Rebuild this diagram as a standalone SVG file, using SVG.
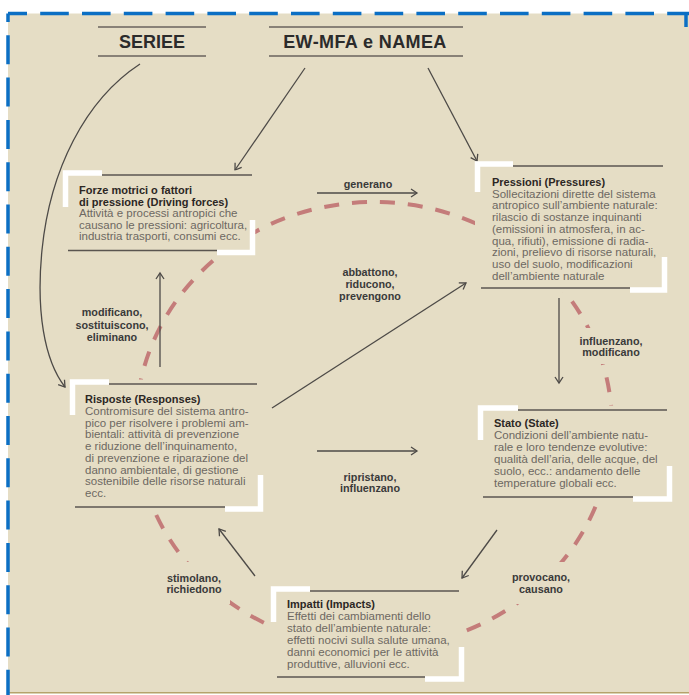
<svg xmlns="http://www.w3.org/2000/svg" width="689" height="695" viewBox="0 0 689 695">
  <style>
    .panel { fill: #E5DDC5; }
    .frame { fill: none; stroke: #0B6FC4; stroke-width: 3.5; }
    .hdr-rule { stroke: #68625C; stroke-width: 1.6; }
    .hdr { font-family: "Liberation Sans", Arial, sans-serif; font-weight: bold; font-size: 18px; fill: #2B2B2B; text-anchor: middle; }
    .pad { fill: #E5DDC5; }
    .rule { stroke: #5A5550; stroke-width: 1.6; }
    .corner { fill: none; stroke: #FFFFFF; stroke-width: 5.5; }
    .title { font-family: "Liberation Sans", Arial, sans-serif; font-weight: bold; font-size: 11px; fill: #2C2724; }
    .body { font-family: "Liberation Sans", Arial, sans-serif; font-size: 11.5px; fill: #6D6862; }
    .arrow { fill: none; stroke: #4D4A47; stroke-width: 1.3; marker-end: url(#head); }
    .lbl { font-family: "Liberation Sans", Arial, sans-serif; font-weight: bold; font-size: 10.8px; fill: #3A3A3A; text-anchor: middle; }
    .cycle { fill: none; stroke: #C47C7A; stroke-width: 4; stroke-dasharray: 15 13; }
  </style>
  <defs>
    <marker id="head" viewBox="0 0 8 10" refX="7" refY="5" markerWidth="8" markerHeight="10" markerUnits="userSpaceOnUse" orient="auto" overflow="visible">
      <path d="M1,1 L7,5 L1,9" fill="none" stroke="#4D4A47" stroke-width="1.3"/>
    </marker>
  </defs>

  <!-- page -->
  <rect width="689" height="695" fill="#FFFFFF"/>
  <rect class="panel" x="8" y="13.5" width="681" height="679"/>
  <line x1="8" y1="692.8" x2="689" y2="692.8" stroke="#B5A36B" stroke-width="1.6"/>
  <path class="frame" d="M8,13.5 H689" stroke-dasharray="28.6 13.2" stroke-dashoffset="9.6"/>
  <path class="frame" d="M8,13.5 V695" stroke-dasharray="29 13.3" stroke-dashoffset="20.5"/>
  <path class="frame" d="M686,13.5 V27"/>

  <!-- DPSIR cycle -->
  <g id="cycle">
    <ellipse class="cycle" cx="374" cy="425" rx="238" ry="223"/>
  </g>

  <!-- sources -->
  <g id="src-seriee">
    <line class="hdr-rule" x1="98" y1="27" x2="206" y2="27"/>
    <line class="hdr-rule" x1="98" y1="56" x2="206" y2="56"/>
    <text class="hdr" x="152" y="47.5">SERIEE</text>
  </g>
  <g id="src-ewmfa">
    <line class="hdr-rule" x1="269" y1="27" x2="463" y2="27"/>
    <line class="hdr-rule" x1="269" y1="56" x2="463" y2="56"/>
    <text class="hdr" x="365" y="47.5" letter-spacing="0.4">EW-MFA e NAMEA</text>
  </g>

  <!-- connectors -->
  <g id="connectors">
    <path class="arrow" d="M140,64 C85,100 50,170 42,250 C36,310 44,360 65,387"/>
    <line class="arrow" x1="305" y1="68" x2="235" y2="170"/>
    <line class="arrow" x1="428" y1="68" x2="477" y2="161"/>

    <line class="arrow" x1="317" y1="193" x2="417" y2="193"/>
    <text class="lbl" x="368" y="188">generano</text>

    <line class="arrow" x1="272" y1="408" x2="466" y2="283"/>
    <text class="lbl" x="370" y="276">abbattono,</text>
    <text class="lbl" x="370" y="288">riducono,</text>
    <text class="lbl" x="370" y="300">prevengono</text>

    <line class="arrow" x1="160" y1="367" x2="160" y2="273"/>
    <text class="lbl" x="112" y="316">modificano,</text>
    <text class="lbl" x="112" y="329">sostituiscono,</text>
    <text class="lbl" x="112" y="341">eliminano</text>

    <line class="arrow" x1="559" y1="298" x2="559" y2="383"/>
    <rect class="pad" x="576" y="328" width="70" height="36"/>
    <text class="lbl" x="611" y="345">influenzano,</text>
    <text class="lbl" x="611" y="356">modificano</text>

    <line class="arrow" x1="317" y1="451" x2="417" y2="451"/>
    <text class="lbl" x="370" y="481">ripristano,</text>
    <text class="lbl" x="370" y="492">influenzano</text>

    <line class="arrow" x1="255" y1="576" x2="219" y2="529"/>
    <rect class="pad" x="160" y="562" width="70" height="42"/>
    <text class="lbl" x="194" y="582">stimolano,</text>
    <text class="lbl" x="194" y="593">richiedono</text>

    <line class="arrow" x1="497" y1="530" x2="462" y2="578"/>
    <rect class="pad" x="506" y="562" width="70" height="42"/>
    <text class="lbl" x="541" y="581">provocano,</text>
    <text class="lbl" x="541" y="593">causano</text>
  </g>

  <!-- Driving forces -->
  <g id="node-forze">
    <rect class="pad" x="63" y="170.5" width="192" height="84"/>
    <path class="corner" d="M102,173 H65.5 V207"/>
    <path class="corner" d="M217,252.5 H252.5 V220"/>
    <line class="rule" x1="102" y1="175" x2="252" y2="175"/>
    <line class="rule" x1="68" y1="250.5" x2="217" y2="250.5"/>
    <text class="title" x="79" y="194">Forze motrici o fattori</text>
    <text class="title" x="79" y="205.6">di pressione (Driving forces)</text>
    <text class="body" x="79" y="217.2">Attività e processi antropici che</text>
    <text class="body" x="79" y="228.8">causano le pressioni: agricoltura,</text>
    <text class="body" x="79" y="240.4">industria trasporti, consumi ecc.</text>
  </g>

  <!-- Pressures -->
  <g id="node-pressioni">
    <rect class="pad" x="475" y="161.5" width="192" height="131"/>
    <path class="corner" d="M513,164 H477.5 V192"/>
    <path class="corner" d="M630,290 H664.5 V257"/>
    <line class="rule" x1="513" y1="166" x2="663" y2="166"/>
    <line class="rule" x1="481" y1="288" x2="630" y2="288"/>
    <text class="title" x="492" y="186">Pressioni (Pressures)</text>
    <text class="body" x="492" y="197.7">Sollecitazioni dirette del sistema</text>
    <text class="body" x="492" y="209.4">antropico sull’ambiente naturale:</text>
    <text class="body" x="492" y="221.1">rilascio di sostanze inquinanti</text>
    <text class="body" x="492" y="232.8">(emissioni in atmosfera, in ac-</text>
    <text class="body" x="492" y="244.5">qua, rifiuti), emissione di radia-</text>
    <text class="body" x="492" y="256.2">zioni, prelievo di risorse naturali,</text>
    <text class="body" x="492" y="267.9">uso del suolo, modificazioni</text>
    <text class="body" x="492" y="279.6">dell’ambiente naturale</text>
  </g>

  <!-- Responses -->
  <g id="node-risposte">
    <rect class="pad" x="70" y="379.5" width="193" height="132"/>
    <path class="corner" d="M109,382 H72.5 V415"/>
    <path class="corner" d="M225,509 H260.5 V475"/>
    <line class="rule" x1="109" y1="384" x2="257" y2="384"/>
    <line class="rule" x1="75" y1="507" x2="225" y2="507"/>
    <text class="title" x="85" y="403">Risposte (Responses)</text>
    <text class="body" x="85" y="414.8">Contromisure del sistema antro-</text>
    <text class="body" x="85" y="426.5">pico per risolvere i problemi am-</text>
    <text class="body" x="85" y="438.3">bientali: attività di prevenzione</text>
    <text class="body" x="85" y="450">e riduzione dell’inquinamento,</text>
    <text class="body" x="85" y="461.8">di prevenzione e riparazione del</text>
    <text class="body" x="85" y="473.5">danno ambientale, di gestione</text>
    <text class="body" x="85" y="485.3">sostenibile delle risorse naturali</text>
    <text class="body" x="85" y="497">ecc.</text>
  </g>

  <!-- State -->
  <g id="node-stato">
    <rect class="pad" x="478" y="405.5" width="194" height="96"/>
    <path class="corner" d="M518,408 H480.5 V440"/>
    <path class="corner" d="M633,499 H669.5 V466"/>
    <line class="rule" x1="518" y1="410" x2="667" y2="410"/>
    <line class="rule" x1="483" y1="497" x2="633" y2="497"/>
    <text class="title" x="494" y="427">Stato (State)</text>
    <text class="body" x="494" y="439">Condizioni dell’ambiente natu-</text>
    <text class="body" x="494" y="451">rale e loro tendenze evolutive:</text>
    <text class="body" x="494" y="463">qualità dell’aria, delle acque, del</text>
    <text class="body" x="494" y="475">suolo, ecc.: andamento delle</text>
    <text class="body" x="494" y="487">temperature globali ecc.</text>
  </g>

  <!-- Impacts -->
  <g id="node-impatti">
    <rect class="pad" x="271" y="586.5" width="193" height="95"/>
    <path class="corner" d="M310,589 H273.5 V622"/>
    <path class="corner" d="M425,679 H461.5 V647"/>
    <line class="rule" x1="310" y1="591" x2="459" y2="591"/>
    <line class="rule" x1="277" y1="677" x2="425" y2="677"/>
    <text class="title" x="287" y="608">Impatti (Impacts)</text>
    <text class="body" x="287" y="620">Effetti dei cambiamenti dello</text>
    <text class="body" x="287" y="632">stato dell’ambiente naturale:</text>
    <text class="body" x="287" y="644">effetti nocivi sulla salute umana,</text>
    <text class="body" x="287" y="656">danni economici per le attività</text>
    <text class="body" x="287" y="668">produttive, alluvioni ecc.</text>
  </g>
</svg>
